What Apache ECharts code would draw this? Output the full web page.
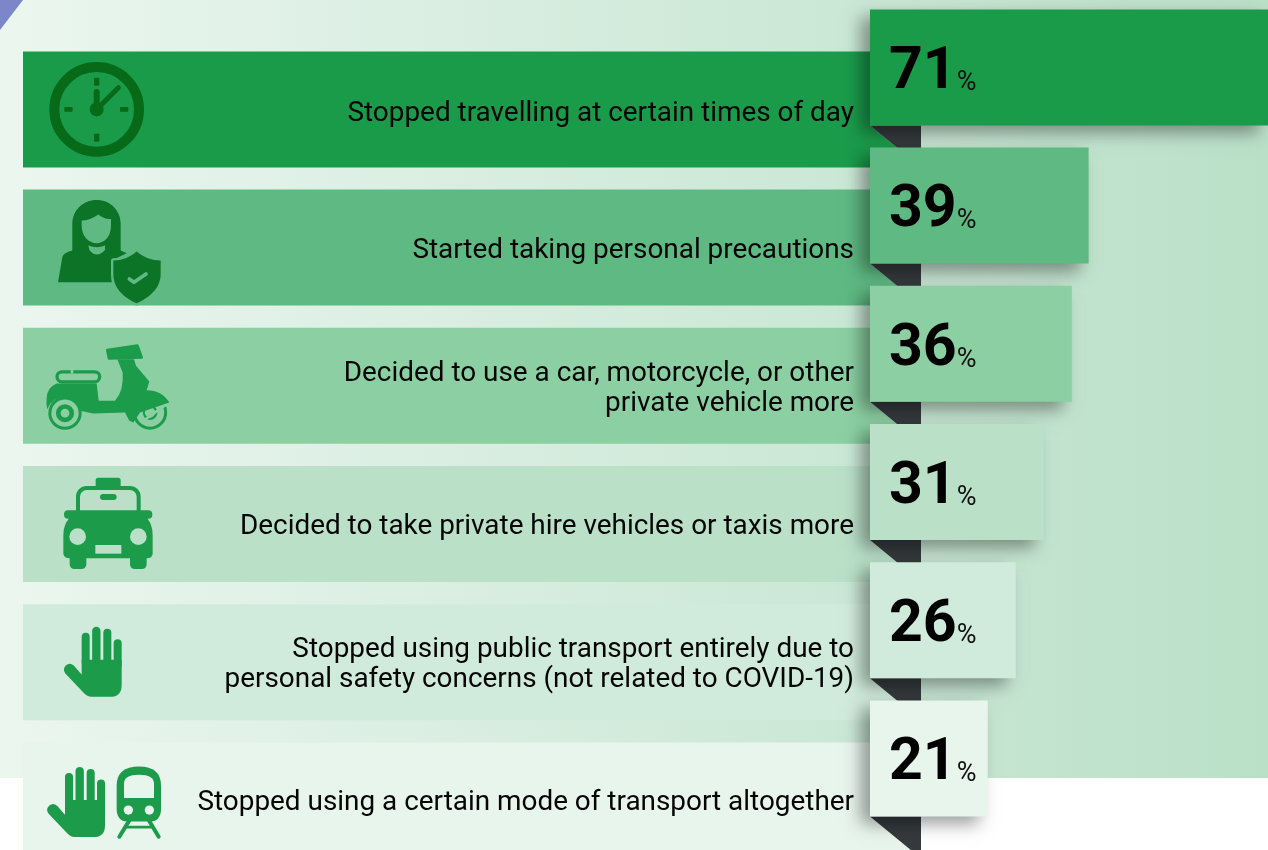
<!DOCTYPE html>
<html>
<head>
<meta charset="utf-8">
<style>
  html, body { margin: 0; padding: 0; background: #fff; overflow: hidden; height: 850px; }
  /* chart sits 20px above the window: the top row's band starts just off the grid's usable area */
  #main { position: absolute; left: 0; top: -20px; width: 1268px; height: 870px; }
</style>
<script src="https://cdn.jsdelivr.net/npm/echarts@6/dist/echarts.min.js"></script>
</head>
<body>
<div id="main"></div>
<script>
var categories = [
  'Stopped travelling at certain times of day',
  'Started taking personal precautions',
  'Decided to use a car, motorcycle, or other\nprivate vehicle more',
  'Decided to take private hire vehicles or taxis more',
  'Stopped using public transport entirely due to\npersonal safety concerns (not related to COVID-19)',
  'Stopped using a certain mode of transport altogether'
];
var shares = [71, 39, 36, 31, 26, 21];
var rowColors = ['#1a9b4a', '#5eb982', '#8bcfa2', '#bae0c8', '#d0ebdb', '#e8f5ed'];
var textNudge = [5, 3, 3, 3, 3, 3];

var iconGreen = '#1c9b4a';

function stroke(d, width, color) {
  return { type: 'path', shape: { pathData: d }, style: { fill: null, stroke: color, lineWidth: width, lineCap: 'round', lineJoin: 'round' } };
}
function fill(d, color) {
  return { type: 'path', shape: { pathData: d }, style: { fill: color } };
}
function circle(cx, cy, r, color) {
  return { type: 'circle', shape: { cx: cx, cy: cy, r: r }, style: { fill: color } };
}
function box(x, y, w, h, r, color) {
  return { type: 'rect', shape: { x: x, y: y, width: w, height: h, r: r }, style: { fill: color } };
}

function clockIcon(bg) {
  var c = '#076a18';
  return [
    { type: 'circle', shape: { cx: 290, cy: 327, r: 127 }, style: { fill: null, stroke: c, lineWidth: 30 } },
    box(282, 232, 16, 24, 2, c), box(282, 400, 16, 24, 2, c),
    box(193, 320, 25, 14, 2, c), box(360, 320, 25, 14, 2, c),
    circle(290, 327, 21, c),
    stroke('M290 327L290 275', 18, c),
    stroke('M290 327L355 262', 15, c)
  ];
}

function personIcon(bg) {
  var c = '#0c7426';
  var shield = 'M320 183Q290 210 250 210L250 250C250 295 285 322 320 338C355 322 392 295 392 250L392 210Q350 210 320 183Z';
  return [
    fill('M84 275L97 200Q100 186 127 180L127 100C127 58 160 28 200 28C240 28 272 58 272 100L272 180L290 188L245 210L245 275Z', c),
    fill('M155 90Q180 90 205 72Q225 88 243 85L243 105C243 140 222 158 200 158C178 158 155 140 155 105Z', bg),
    fill('M175 165Q200 175 225 165L225 178Q200 205 178 178Z', bg),
    stroke(shield, 14, bg),
    fill(shield, c),
    stroke('M298 265L312 275L348 250', 11, bg)
  ];
}

function scooterIcon(bg) {
  var c = iconGreen;
  return [
    { type: 'circle', shape: { cx: 360, cy: 665, r: 47 }, style: { fill: null, stroke: c, lineWidth: 9 } },
    { type: 'circle', shape: { cx: 360, cy: 665, r: 19 }, style: { fill: null, stroke: c, lineWidth: 7 } },
    stroke('M330 650L410 640L340 690Z', 8, bg),
    fill('M262 505L312 505L318 525L358 572L350 598Q395 598 418 635L330 665L310 695L298 690L285 665L190 668L150 660Q130 620 100 620Q65 620 52 655Q48 640 50 620Q52 590 80 578L200 578L206 630L255 630Q282 600 278 545Z', c),
    { type: 'path', shape: { pathData: 'M232 478L322 464L335 500L237 503Z' }, style: { fill: c, stroke: c, lineWidth: 8, lineJoin: 'round' } },
    { type: 'rect', shape: { x: 81, y: 543, width: 128, height: 30, r: 15 }, style: { fill: null, stroke: c, lineWidth: 10 } },
    box(122, 536, 8, 12, 0, bg),
    circle(105, 667, 50, c), circle(105, 667, 41, bg),
    circle(105, 667, 27, c), circle(105, 667, 13, bg)
  ];
}

function taxiIcon(bg) {
  var c = iconGreen;
  return [
    box(197, 38, 75, 34, 8, c),
    { type: 'rect', shape: { x: 144, y: 69, width: 182, height: 95, r: 26 }, style: { fill: null, stroke: c, lineWidth: 12 } },
    box(210, 87, 50, 18, 9, c),
    box(102, 136, 265, 25, 12, c),
    box(119, 265, 50, 47, 14, c), box(300, 265, 50, 47, 14, c),
    fill('M100 210Q100 170 130 148L340 148Q368 170 368 210L368 265Q368 280 350 280L120 280Q100 280 100 265Z', c),
    circle(143, 215, 25, bg), circle(325, 215, 25, bg),
    box(196, 240, 78, 26, 0, bg)
  ];
}

// hand shape is shared by the last two rows, dy/dx move it in zoom pixels
function handIcon(dx, dy) {
  var c = iconGreen;
  return {
    type: 'group', x: dx, y: dy,
    children: [
      stroke('M167 515L167 590', 24, c),
      stroke('M199 497L199 590', 25, c),
      stroke('M232 503L232 590', 24, c),
      stroke('M263 534L263 600', 24, c),
      fill('M155 584L275 584L275 660Q275 695 240 695L185 695Q170 695 158 680L106 625Q96 612 108 600Q120 590 132 602L155 628Z', c)
    ]
  };
}

function trainIcon(bg) {
  var c = iconGreen;
  return [
    stroke('M300 1062L268 1114', 12, c),
    stroke('M355 1062L386 1114', 12, c),
    stroke('M290 1085L364 1085', 8, c),
    fill('M260 960Q260 903 327 903Q393 903 393 960L393 1030Q393 1068 360 1068L293 1068Q260 1068 260 1030Z', c),
    fill('M282 998L372 998L372 955Q372 928 327 928Q282 928 282 955Z', bg),
    circle(295, 1034, 14, bg), circle(358, 1034, 14, bg)
  ];
}

// icon artwork is in 3x pixels; x0, dy place its origin relative to the band middle
var rowIcons = [
  { x0: 0, dy: -109, draw: clockIcon },
  { x0: 30, dy: -57, draw: personIcon },
  { x0: 30, dy: -195, draw: scooterIcon },
  { x0: 30, dy: -59, draw: taxiIcon },
  { x0: 30, dy: -197, draw: function () { return [handIcon(0, 0)]; } },
  { x0: 30, dy: -335, draw: function (bg) { return [handIcon(-50, 420)].concat(trainIcon(bg)); } }
];

function renderRow(params, api) {
  var i = params.dataIndex;
  var p = api.coord([0, i]);
  var x = p[0];
  var mid = p[1] + 42;
  var top = mid - 58;
  var bottom = mid + 58;
  var barBottom = p[1] + 58;
  var icon = rowIcons[i];
  return {
    type: 'group',
    children: [
      { type: 'polygon', shape: { points: [[23, top], [x, top], [x, barBottom], [x + 51, bottom], [23, bottom]] }, style: { fill: rowColors[i] } },
      { type: 'polygon', shape: { points: [[x, barBottom], [x + 51, barBottom], [x + 51, bottom]] }, style: { fill: '#35393c' } },
      { type: 'group', x: icon.x0, y: mid + icon.dy, scaleX: 1 / 3, scaleY: 1 / 3, children: icon.draw(rowColors[i]) },
      { type: 'text', style: { text: categories[i], x: x - 16, y: mid + textNudge[i], align: 'right', verticalAlign: 'middle', fontFamily: 'Roboto', fontSize: 27.9, lineHeight: 30, fill: '#050505' } }
    ]
  };
}

var myChart = echarts.init(document.getElementById('main'));
var option = {
  animation: false,
  backgroundColor: '#fff',
  graphic: [
    { type: 'rect', z: 0, shape: { x: 0, y: 0, width: 1268, height: 798 },
      style: { fill: new echarts.graphic.LinearGradient(0, 0, 1, 0, [{ offset: 0, color: '#ebf6ef' }, { offset: 1, color: '#bae0c8' }]) } },
    { type: 'polygon', z: 0, shape: { points: [[0, 20], [23, 20], [0, 50]] }, style: { fill: '#7b87c9' } }
  ],
  grid: { left: 870, width: 398, top: 18.3, height: 829.2 },
  xAxis: { type: 'value', min: 0, max: 71, show: false },
  yAxis: { type: 'category', inverse: true, data: categories, show: false },
  series: [
    {
      type: 'custom',
      z: 1,
      silent: true,
      renderItem: renderRow,
      data: shares.map(function (v, i) { return [0, i]; })
    },
    {
      type: 'bar',
      z: 2,
      barWidth: 116,
      data: shares.map(function (v, i) {
        return { value: v, itemStyle: { color: rowColors[i] } };
      }),
      itemStyle: {
        shadowColor: 'rgba(0,0,0,0.38)',
        shadowBlur: 16,
        shadowOffsetX: -9,
        shadowOffsetY: 8
      },
      label: {
        show: true,
        position: 'insideLeft',
        distance: 19,
        offset: [0, 6],
        formatter: function (p) { return '{n|' + p.value + '}{p|%}'; },
        rich: {
          n: { fontFamily: 'Roboto', fontWeight: 700, fontSize: 59, color: '#000' },
          p: { fontFamily: 'Roboto', fontSize: 27, color: '#111', padding: [20, 0, 0, 0] }
        }
      }
    }
  ]
};
myChart.setOption(option, true);
</script>
</body>
</html>
